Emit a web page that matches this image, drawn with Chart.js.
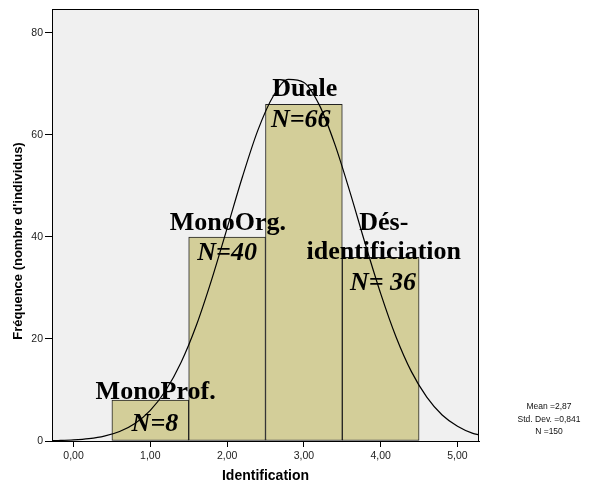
<!DOCTYPE html>
<html>
<head>
<meta charset="utf-8">
<script src="https://cdn.jsdelivr.net/npm/chart.js@4"></script>
<style>
  body { margin: 0; background: #fff; }
  #wrap { width: 600px; height: 481px; }
</style>
</head>
<body>
<div id="wrap"><canvas id="histo"></canvas></div>
<script>
// histogram bins (centres) and counts
const binCenters = [1, 2, 3, 4];
const binCounts = [8, 40, 66, 36];
const binNames = ["MonoProf.", "MonoOrg.", "Duale", "Dés-|identificiation"];
const binNLabels = ["N=8", "N=40", "N=66", "N= 36"];

// normal curve
const curveX = [-0.28, -0.2, 0, 0.2, 0.4, 0.6, 0.8, 1.0, 1.2, 1.4, 1.6, 1.8, 2.0, 2.2, 2.4, 2.6, 2.8,
  3.0, 3.2, 3.4, 3.6, 3.8, 4.0, 4.2, 4.4, 4.6, 4.8, 5.0, 5.2, 5.28];
const curveY = [0.06, 0.09, 0.21, 0.46, 0.95, 1.86, 3.44, 6.0, 9.9, 15.4, 22.7, 31.7, 41.7, 51.8, 60.9, 67.6, 70.9,
  70.3, 65.9, 58.3, 48.8, 38.6, 28.9, 20.4, 13.6, 8.6, 5.1, 2.9, 1.5, 1.2];

const xTicks = [0, 1, 2, 3, 4, 5];
const xTickLabels = ["0,00", "1,00", "2,00", "3,00", "4,00", "5,00"];
const yTicks = [0, 20, 40, 60, 80];

const statsLines = ["Mean =2,87", "Std. Dev. =0,841", "N =150"];

// where the text over the bars sits (data units)
const namePos = [[1.07, 8.2], [2.01, 41.4], [3.01, 67.6], [4.04, 41.4]];
const nPos = [[1.06, 2.0], [2.0, 35.5], [2.96, 61.6], [4.03, 29.6]];

const decor = {
  id: 'decor',
  beforeDraw(chart) {
    const a = chart.chartArea, ctx = chart.ctx;
    ctx.save();
    ctx.fillStyle = '#f0f0f0';
    ctx.fillRect(a.left, a.top, a.right - a.left, a.bottom - a.top);
    ctx.restore();
  },
  afterDraw(chart) {
    const a = chart.chartArea, ctx = chart.ctx;
    const xs = chart.scales.x, ys = chart.scales.y;
    ctx.save();
    ctx.strokeStyle = '#000';
    ctx.lineWidth = 1;
    ctx.beginPath();
    ctx.moveTo(Math.round(a.left) + 0.5, Math.round(a.top) + 0.5);
    ctx.lineTo(Math.round(a.right) - 0.5, Math.round(a.top) + 0.5);
    ctx.lineTo(Math.round(a.right) - 0.5, Math.round(a.bottom));
    ctx.stroke();

    ctx.fillStyle = '#000';
    ctx.textAlign = 'center';
    ctx.textBaseline = 'alphabetic';
    for (let i = 0; i < binNames.length; i++) {
      let px = xs.getPixelForValue(namePos[i][0]);
      let py = ys.getPixelForValue(namePos[i][1]);
      ctx.font = 'bold 26px "Liberation Serif", "Times New Roman", serif';
      let parts = binNames[i].split('|');
      for (let j = 0; j < parts.length; j++) {
        ctx.fillText(parts[j], px, py + j * 29);
      }
      ctx.font = 'italic bold 26px "Liberation Serif", "Times New Roman", serif';
      ctx.fillText(binNLabels[i], xs.getPixelForValue(nPos[i][0]), ys.getPixelForValue(nPos[i][1]));
    }

    // axis titles
    ctx.font = 'bold 14px "Liberation Sans", Arial, sans-serif';
    ctx.textBaseline = 'middle';
    ctx.fillText('Identification', (a.left + a.right) / 2, 476);
    ctx.save();
    ctx.translate(18, 241);
    ctx.rotate(-Math.PI / 2);
    ctx.font = 'bold 13px "Liberation Sans", Arial, sans-serif';
    ctx.fillText("Fréquence (nombre d'individus)", 0, 0);
    ctx.restore();

    // stats box
    ctx.font = '8.5px "Liberation Sans", Arial, sans-serif';
    ctx.fillStyle = '#111';
    for (let k = 0; k < statsLines.length; k++) {
      ctx.fillText(statsLines[k], 549, 407 + k * 12.5);
    }
    ctx.restore();
  }
};

const ctx = document.getElementById('histo').getContext('2d');
new Chart(ctx, {
  type: 'bar',
  data: {
    datasets: [{
      type: 'line',
      data: curveX.map((x, i) => ({ x: x, y: curveY[i] })),
      borderColor: '#000',
      borderWidth: 1.2,
      pointRadius: 0,
      cubicInterpolationMode: 'monotone',
      fill: false,
      order: 0
    }, {
      type: 'bar',
      data: binCenters.map((x, i) => ({ x: x, y: binCounts[i] })),
      backgroundColor: '#d3ce99',
      borderColor: '#222',
      borderWidth: 1,
      borderSkipped: false,
      barPercentage: 1,
      categoryPercentage: 1,
      order: 1
    }]
  },
  options: {
    responsive: true,
    maintainAspectRatio: false,
    animation: false,
    layout: { padding: { top: 9, right: 121, left: 0, bottom: 0 } },
    plugins: { legend: { display: false }, tooltip: { enabled: false } },
    scales: {
      x: {
        type: 'linear',
        min: -0.28,
        max: 5.28,
        offset: false,
        afterBuildTicks: s => { s.ticks = xTicks.map(v => ({ value: v })); },
        afterFit: s => { s.height = 40; },
        grid: { drawOnChartArea: false, offset: false, tickLength: 6, color: '#000' },
        border: { color: '#000', width: 1 },
        ticks: {
          padding: 3,
          maxRotation: 0,
          autoSkip: false,
          color: '#222',
          font: { family: '"Liberation Sans", Arial, sans-serif', size: 10.5 },
          callback: (v, i) => xTickLabels[i]
        }
      },
      y: {
        min: 0,
        max: 84.7,
        afterBuildTicks: s => { s.ticks = yTicks.map(v => ({ value: v })); },
        afterFit: s => { s.width = 52; },
        grid: { drawOnChartArea: false, tickLength: 7, color: '#000' },
        border: { color: '#000', width: 1 },
        ticks: {
          padding: 2,
          color: '#222',
          font: { family: '"Liberation Sans", Arial, sans-serif', size: 10.5 }
        }
      }
    }
  },
  plugins: [decor]
});
</script>
</body>
</html>
